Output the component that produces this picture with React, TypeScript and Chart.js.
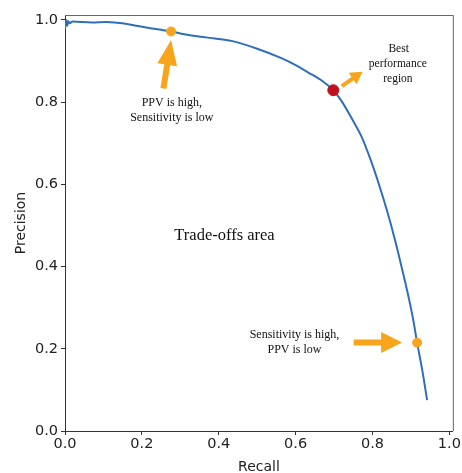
import React, { useEffect, useRef } from "react";
import { Chart, registerables } from "chart.js";

Chart.register(...registerables);

// PR curve (recall, precision)
const recall = [0.0, 0.002, 0.004, 0.006, 0.009, 0.012, 0.02, 0.039, 0.07, 0.109, 0.135, 0.161, 0.19, 0.222, 0.25, 0.276, 0.31, 0.352, 0.39, 0.433, 0.5, 0.563, 0.6, 0.633, 0.67, 0.698, 0.72, 0.745, 0.772, 0.795, 0.816, 0.838, 0.859, 0.878, 0.894, 0.906, 0.916, 0.93, 0.942];
const precision = [0.978, 0.99, 1.0, 0.986, 0.997, 0.992, 0.996, 0.995, 0.994, 0.995, 0.993, 0.99, 0.985, 0.98, 0.976, 0.972, 0.965, 0.959, 0.955, 0.949, 0.93, 0.907, 0.89, 0.872, 0.851, 0.829, 0.802, 0.762, 0.715, 0.66, 0.602, 0.535, 0.463, 0.39, 0.325, 0.27, 0.215, 0.145, 0.075];

const highlightOrange = [
  { x: 0.276, y: 0.972 },
  { x: 0.916, y: 0.215 },
];
const highlightRed = [{ x: 0.698, y: 0.829 }];

const xTicks = [0, 0.2, 0.4, 0.6, 0.8, 1.0];
const yTicks = [0, 0.2, 0.4, 0.6, 0.8, 1.0];

// arrows: tail -> tip in data coords, head sizes in px
const arrows = [
  { x0: 0.256, y0: 0.833, x1: 0.276, y1: 0.951, head: 25, headW: 20, shaft: 6 },
  { x0: 0.72, y0: 0.839, x1: 0.774, y1: 0.874, head: 12, headW: 14, shaft: 4 },
  { x0: 0.751, y0: 0.215, x1: 0.877, y1: 0.215, head: 21, headW: 21, shaft: 6 },
];

const notes = [
  { text: "PPV is high,", x: 0.278, y: 0.798, size: 12 },
  { text: "Sensitivity is low", x: 0.278, y: 0.763, size: 12 },
  { text: "Best", x: 0.868, y: 0.929, size: 11.5 },
  { text: "performance", x: 0.866, y: 0.893, size: 11.5 },
  { text: "region", x: 0.866, y: 0.856, size: 11.5 },
  { text: "Trade-offs area", x: 0.415, y: 0.476, size: 16.5 },
  { text: "Sensitivity is high,", x: 0.597, y: 0.233, size: 12 },
  { text: "PPV is low", x: 0.597, y: 0.198, size: 12 },
];

const ORANGE = "#f7a51c";

const annotationPlugin = {
  id: "annots",
  afterDatasetsDraw(chart: any) {
    const { ctx, scales, chartArea } = chart;
    const xs = scales.x;
    const ys = scales.y;
    ctx.save();
    // frame top/right
    ctx.strokeStyle = "#666";
    ctx.lineWidth = 1;
    ctx.beginPath();
    ctx.moveTo(chartArea.left, chartArea.top + 0.5);
    ctx.lineTo(chartArea.right + 0.5, chartArea.top + 0.5);
    ctx.lineTo(chartArea.right + 0.5, chartArea.bottom);
    ctx.stroke();
    // arrows
    ctx.fillStyle = ORANGE;
    for (const a of arrows) {
      const px0 = xs.getPixelForValue(a.x0);
      const py0 = ys.getPixelForValue(a.y0);
      const px1 = xs.getPixelForValue(a.x1);
      const py1 = ys.getPixelForValue(a.y1);
      const dx = px1 - px0;
      const dy = py1 - py0;
      const len = Math.hypot(dx, dy);
      const ux = dx / len;
      const uy = dy / len;
      const nx = -uy;
      const ny = ux;
      const bx = px1 - ux * a.head;
      const by = py1 - uy * a.head;
      const s = a.shaft / 2;
      const h = a.headW / 2;
      ctx.beginPath();
      ctx.moveTo(px0 + nx * s, py0 + ny * s);
      ctx.lineTo(bx + nx * s, by + ny * s);
      ctx.lineTo(bx + nx * h, by + ny * h);
      ctx.lineTo(px1, py1);
      ctx.lineTo(bx - nx * h, by - ny * h);
      ctx.lineTo(bx - nx * s, by - ny * s);
      ctx.lineTo(px0 - nx * s, py0 - ny * s);
      ctx.closePath();
      ctx.fill();
    }
    // notes
    ctx.fillStyle = "#111";
    ctx.textAlign = "center";
    ctx.textBaseline = "middle";
    for (const n of notes) {
      ctx.font = `${n.size}px "Liberation Serif", "DejaVu Serif", serif`;
      ctx.fillText(n.text, xs.getPixelForValue(n.x), ys.getPixelForValue(n.y));
    }
    ctx.restore();
  },
};

export default function App() {
  const ref = useRef<HTMLCanvasElement | null>(null);
  useEffect(() => {
    if (!ref.current) return;
    const tickFont = { family: '"DejaVu Sans", sans-serif', size: 14.5 };
    const chart = new Chart(ref.current, {
      type: "line",
      data: {
        datasets: [
          {
            label: "PR curve",
            data: recall.map((r, i) => ({ x: r, y: precision[i] })),
            borderColor: "#2f6fba",
            borderWidth: 2,
            pointRadius: 0,
            cubicInterpolationMode: "monotone",
            fill: false,
            order: 2,
          },
          {
            type: "scatter",
            label: "orange",
            data: highlightOrange,
            backgroundColor: ORANGE,
            borderColor: ORANGE,
            pointRadius: 4.5,
            order: 1,
          },
          {
            type: "scatter",
            label: "red",
            data: highlightRed,
            backgroundColor: "#c0101c",
            borderColor: "#c0101c",
            pointRadius: 5.5,
            order: 0,
          },
        ],
      } as any,
      options: {
        animation: false,
        responsive: false,
        maintainAspectRatio: false,
        layout: { padding: { top: 15, right: 9, left: 0, bottom: 0 } },
        plugins: { legend: { display: false }, tooltip: { enabled: false } },
        scales: {
          x: {
            type: "linear",
            min: 0,
            max: 1.009,
            afterBuildTicks: (s: any) => {
              s.ticks = xTicks.map((v) => ({ value: v }));
            },
            afterFit: (s: any) => {
              s.height = 42;
            },
            ticks: {
              font: tickFont,
              color: "#222",
              padding: 1,
              maxRotation: 0,
              callback: (v: any) => Number(v).toFixed(1),
            },
            grid: { drawOnChartArea: false, drawTicks: true, tickLength: 4, color: "#333" },
            border: { display: true, color: "#333", width: 1 },
            title: {
              display: true,
              text: "Recall",
              font: { family: '"DejaVu Sans", sans-serif', size: 14 },
              color: "#222",
              padding: { top: 0, bottom: -3 },
            },
          },
          y: {
            type: "linear",
            min: 0,
            max: 1.012,
            afterBuildTicks: (s: any) => {
              s.ticks = yTicks.map((v) => ({ value: v }));
            },
            afterFit: (s: any) => {
              s.width = 65;
            },
            ticks: {
              font: tickFont,
              color: "#222",
              padding: 3,
              callback: (v: any) => Number(v).toFixed(1),
            },
            grid: { drawOnChartArea: false, drawTicks: true, tickLength: 4, color: "#333" },
            border: { display: true, color: "#333", width: 1 },
            title: {
              display: true,
              text: "Precision",
              font: { family: '"DejaVu Sans", sans-serif', size: 14 },
              color: "#222",
              padding: { top: 13, bottom: 0 },
            },
          },
        },
      } as any,
      plugins: [annotationPlugin],
    });
    return () => chart.destroy();
  }, []);
  return (
    <div style={{ position: "fixed", left: 0, top: 0, width: 462, height: 473, background: "#fff" }}>
      <canvas ref={ref} width={462} height={473} style={{ width: 462, height: 473, display: "block" }} />
    </div>
  );
}
